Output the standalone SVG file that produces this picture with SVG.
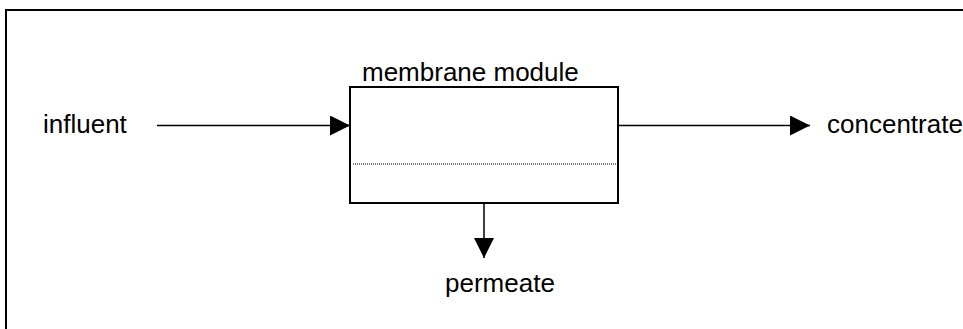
<svg xmlns="http://www.w3.org/2000/svg" width="963" height="329" viewBox="0 0 963 329">
  <style>
    .label { font-family: "Liberation Sans", Arial, sans-serif; font-size: 26px; fill: #000; }
    .flow { stroke: #000; stroke-width: 1.5; fill: none; }
    .frame { stroke: #000; stroke-width: 2; fill: none; }
  </style>
  <defs>
    <marker id="arrow" viewBox="0 0 20 20" refX="20" refY="10" markerWidth="20" markerHeight="20" markerUnits="userSpaceOnUse" orient="auto">
      <path d="M0,0 L20,10 L0,20 Z" fill="#000"/>
    </marker>
  </defs>

  <!-- outer frame -->
  <rect class="frame" x="6" y="10" width="1000" height="400"/>

  <g id="module">
    <rect x="350" y="87" width="268" height="116" fill="#fff" stroke="#000" stroke-width="2"/>
    <line x1="353" y1="164" x2="616" y2="164" stroke="#000" stroke-width="1" stroke-dasharray="1 1"/>
    <text class="label" x="362" y="81">membrane module</text>
  </g>

  <g id="influent">
    <text class="label" x="43" y="133">influent</text>
  </g>

  <g id="concentrate">
    <text class="label" x="827" y="133">concentrate</text>
  </g>

  <g id="permeate">
    <text class="label" x="445" y="292">permeate</text>
  </g>

  <g id="connectors">
    <line class="flow" x1="157" y1="125.5" x2="350" y2="125.5" marker-end="url(#arrow)"/>
    <line class="flow" x1="618" y1="125.5" x2="810" y2="125.5" marker-end="url(#arrow)"/>
    <line class="flow" x1="484" y1="203" x2="484" y2="258" marker-end="url(#arrow)"/>
  </g>
</svg>
